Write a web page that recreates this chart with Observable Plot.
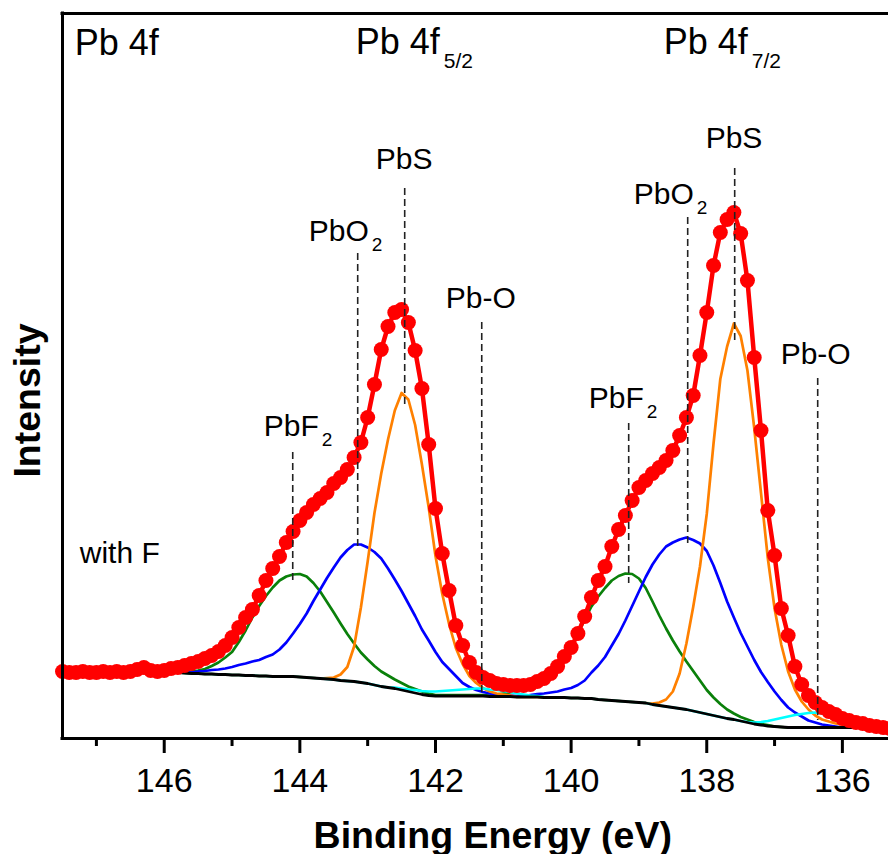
<!DOCTYPE html>
<html>
<head>
<meta charset="utf-8">
<script src="https://cdn.jsdelivr.net/npm/d3@7"></script>
<script src="https://cdn.jsdelivr.net/npm/@observablehq/plot@0.6"></script>
<style>
  html, body { margin: 0; padding: 0; background: #fff; }
  svg { display: block; }
</style>
</head>
<body>
<div id="chart"></div>
<script>
// Measurement grid: binding energy from 147.5 eV down in 0.1 eV steps
const energyStart = 147.5;
const energyStep = 0.1;

// Measured spectrum (red dots), intensity in arbitrary units
const spectrum = [
  67,66,66,67,66,66,67,66,67,66,
  67,69,71,68,67,68,70,71,73,75,
  77,80,83,87,93,101,111,121,129,143,
  158,170,182,196,207,218,226,234,240,246,
  255,261,269,281,296,321,354,389,412,426,
  429,416,388,350,294,230,185,148,113,93,
  76,66,61,58,55,54,53,53,53,54,
  57,60,65,72,82,91,105,122,141,158,
  172,192,209,223,238,251,258,265,271,278,
  288,303,321,343,383,426,473,506,519,526,
  505,458,381,308,228,183,130,103,72,54,
  43,36,31,27,24,20,18,16,15,13,
  12,11,10
];

// Shirley-type background (black)
const background = [
  66,66,66,66,66,66,66,66,66,66,
  66,66,66,66,66,66,66,66,65.5,65,
  65,64.5,64.5,64,64,63.5,63.5,63,63,62.5,
  62.5,62,62,62,62,61.5,61,60.5,60,59.5,
  59,58,57.5,57,56,55,53.5,52,51,50,
  48.5,47,45.5,44,43,42.5,42.5,42.5,42.5,42.5,
  42.5,42.5,42.5,42,42,42,42,41.5,41.5,41.5,
  41.5,41,41,41,41,40.5,40.5,40,40,39,
  38.5,38,37.5,37,36.5,36,35.5,34,33,32,
  31,30,29,27.5,26,24.5,23,21.5,20,19,
  17.5,16,14.5,13.5,12.5,12,11.5,11,11,11,
  11,11,11,11,11,11,11,11,11,11,
  11,11,11
];

// Fitted components, height above the background
const pbF2Fit = [ // green
  0,0,0,0,0,0,0,0,0,0,
  0,0,0,0,0,0,0,0,1,2,
  3,5,8,12,17,23,33,45,58,70,
  80,89,96,100,102,103,101,95,87,77,
  67,57,47,38,30,24,19,15,12,9,
  7,5,4,3,2,1,1,1,1,1,
  1,1,1,1,2,3,4,6,8,10,
  12,16,22,30,40,51,64,79,92,103,
  112,120,125,128,128,124,115,103,90,78,
  67,57,48,40,32,24,18,13,9,6,
  4,3,2,1,1,0,0,0,0,0,
  0,0,0,0,0,0,0,0,0,0,
  0,0,0
];
const pbO2Fit = [ // blue
  0,0,0,0,0,0,0,0,0,0,
  0,0,0,0,0,0,0,0,1,1,
  2,3,4,5,6,8,10,12,14,16,
  19,22,27,34,43,53,64,77,89,101,
  112,123,131,137,138,136,133,128,119,109,
  99,88,77,65,55,44,34,27,20,13,
  9,6,4,3,2,1,1,1,1,2,
  3,4,5,6,8,10,13,18,26,34,
  43,55,67,81,96,111,126,140,151,160,
  165,169,172,171,169,163,150,134,117,102,
  88,76,64,53,44,35,27,20,15,11,
  7,5,3,2,1,0,0,0,0,0,
  0,0,0
];
const pbSFit = [ // orange
  0,0,0,0,0,0,0,0,0,0,
  0,0,0,0,0,0,0,0,0,0,
  0,0,0,0,0,0,0,0,0,0,
  0,0,0,0,0,0,0,0,0,1,
  2,6,14,35,75,122,172,213,248,278,
  297,292,268,230,188,140,102,72,48,32,
  20,13,8,5,3,2,1,0,0,0,
  0,0,0,0,0,0,0,0,0,0,
  0,0,0,0,0,0,0,1,3,7,
  16,35,66,104,146,200,272,338,372,396,
  385,352,296,232,168,118,82,56,38,26,
  18,12,8,6,4,3,2,1,1,0,
  0,0,0
];
const pbOFit = [ // cyan
  0,0,0,0,0,0,0,0,0,0,
  0,0,0,0,0,0,0,0,0,0,
  0,0,0,0,0,0,0,0,0,0,
  0,0,0,0,0,0,0,0,0,0,
  0,0,0,0,0,0,0,0,0,1,
  1.5,2,3,3.5,4,4.5,5,5.5,6,6.5,
  7,7.5,7.5,7,6.5,5.5,4.5,3.5,2.5,1.5,
  1,0.5,0,0,0,0,0,0,0,0,
  0,0,0,0,0,0,0,0,0,0,
  0,0,0,0,0,0,0,0,0,0,
  0,0.5,1.5,3,5,7,9,11,12.5,13.5,
  14.5,15,14,11,8,5,3,1.5,0.5,0,
  0,0,0
];

// Axes
const xDomain = [147.5, 135.32];
const yDomain = [0, 725];
const xTicksMajor = [146, 144, 142, 140, 138, 136];
const xTicksMinor = [147, 145, 143, 141, 139, 137, 135];

// Peak markers (dashed lines) and their labels ("_" marks a subscript)
const markerNames  = ["PbF_2", "PbO_2", "PbS", "Pb-O", "PbF_2", "PbO_2", "PbS", "Pb-O"];
const markerEnergy = [144.105, 143.147, 142.454, 141.318, 139.151, 138.281, 137.588, 136.364];
const markerTop    = [286, 485, 550, 416, 315, 521, 570, 360];
const markerBottom = [156, 188, 331, 43, 155, 195, 395, 18];
const labelEnergy  = [144.533, 143.869, 142.881, 141.849, 139.741, 139.077, 138.016, 136.910];
const labelLevel   = [303, 498, 570, 431, 331, 535, 591, 375];

// Panel titles
const titleTexts  = ["Pb 4f", "Pb 4f_5/2", "Pb 4f_7/2"];
const titleEnergy = [147.32, 143.176, 138.635];
const titleLevel  = [684, 685, 685];
const noteText = "with F";
const noteEnergy = 147.246, noteLevel = 176;

const xTitle = "Binding Energy (eV)", xTitleEnergy = 141.156, xTitleLevel = -109;
const yTitle = "Intensity", yTitleEnergy = 148.013, yTitleLevel = 338;

const table = spectrum.map((v, i) => ({
  e: +(energyStart - energyStep * i).toFixed(2),
  data: v,
  bg: background[i],
  f2: background[i] + pbF2Fit[i],
  o2: background[i] + pbO2Fit[i],
  s: background[i] + pbSFit[i],
  po: background[i] + pbOFit[i]
}));
const markers = markerNames.map((name, i) => ({
  name, e: markerEnergy[i], top: markerTop[i], bottom: markerBottom[i],
  lx: labelEnergy[i], ly: labelLevel[i]
}));
const titles = titleTexts.map((t, i) => ({t, x: titleEnergy[i], y: titleLevel[i]}));

const font = "'Liberation Sans', Arial, Helvetica, sans-serif";

const chart = Plot.plot({
  width: 888,
  height: 854,
  marginLeft: 62,
  marginRight: 0,
  marginTop: 13,
  marginBottom: 116,
  x: {domain: xDomain, label: null},
  y: {domain: yDomain, axis: null, label: null},
  style: {fontFamily: font, color: "#000", background: "#fff", overflow: "visible"},
  marks: [
    Plot.line(table, {x: "e", y: "f2", stroke: "#0a800a", strokeWidth: 2.7}),
    Plot.line(table, {x: "e", y: "o2", stroke: "#0000ff", strokeWidth: 2.7}),
    Plot.line(table, {x: "e", y: "s", stroke: "#ff8000", strokeWidth: 2.7}),
    Plot.line(table, {x: "e", y: "po", stroke: "#00ffff", strokeWidth: 2.7}),
    Plot.line(table, {x: "e", y: "bg", stroke: "#000", strokeWidth: 2.8}),
    Plot.line(table, {x: "e", y: "data", stroke: "#ff0000", strokeWidth: 4.5}),
    Plot.dot(table, {x: "e", y: "data", fill: "#ff0000", r: 7.5}),
    Plot.ruleX(markers, {x: "e", y1: "top", y2: "bottom", stroke: "#222", strokeWidth: 1.6, strokeDasharray: "7,4"}),
    Plot.text(markers, {x: "lx", y: "ly", text: "name", textAnchor: "start", lineAnchor: "bottom", fontSize: 30, fill: "#000"}),
    Plot.text(titles, {x: "x", y: "y", text: "t", textAnchor: "start", lineAnchor: "bottom", fontSize: 36, fill: "#000"}),
    Plot.text([noteText], {x: noteEnergy, y: noteLevel, text: d => d, textAnchor: "start", lineAnchor: "bottom", fontSize: 30, fill: "#000"}),
    Plot.ruleY([yDomain[0]], {stroke: "#000", strokeWidth: 3, strokeLinecap: "square"}),
    Plot.ruleY([yDomain[1]], {stroke: "#000", strokeWidth: 3, strokeLinecap: "square"}),
    Plot.ruleX([xDomain[0]], {stroke: "#000", strokeWidth: 3, strokeLinecap: "square"}),
    Plot.axisX(xTicksMajor, {anchor: "bottom", tickSize: 15, tickPadding: 14, strokeWidth: 3, fontSize: 34, label: null, tickFormat: d => String(d)}),
    Plot.axisX(xTicksMinor, {anchor: "bottom", tickSize: 8, strokeWidth: 3, label: null, tickFormat: () => ""}),
    Plot.text([xTitle], {x: xTitleEnergy, y: xTitleLevel, text: d => d, textAnchor: "middle", lineAnchor: "bottom", fontSize: 37.5, fontWeight: "bold", fill: "#000"}),
    Plot.text([yTitle], {x: yTitleEnergy, y: yTitleLevel, text: d => d, rotate: -90, textAnchor: "middle", lineAnchor: "middle", fontSize: 37.5, fontWeight: "bold", fill: "#000"})
  ]
});

// Turn "_" parts into subscripts
d3.select(chart).selectAll("text").each(function () {
  const t = this.textContent;
  if (!t.includes("_")) return;
  const [main, sub] = t.split("_");
  const big = sub.includes("/");
  const s = d3.select(this);
  s.text(main);
  s.append("tspan")
    .attr("dx", big ? 4 : 3)
    .attr("dy", big ? 14 : 10)
    .attr("font-size", big ? 21 : 19)
    .text(sub);
});

document.getElementById("chart").appendChild(chart);
</script>
</body>
</html>
